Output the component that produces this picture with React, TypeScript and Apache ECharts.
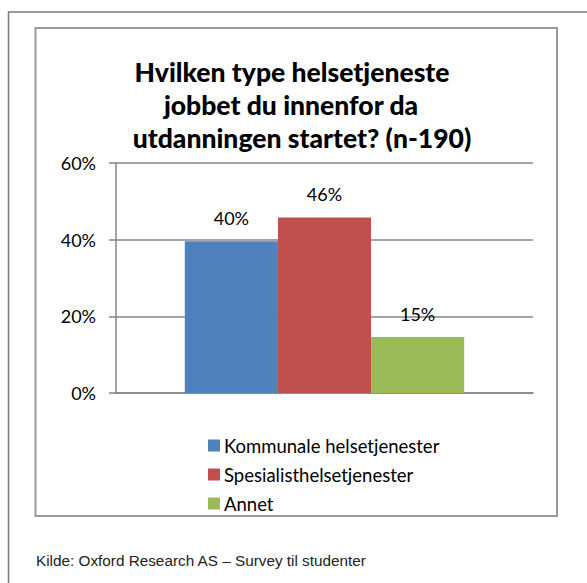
import React, { useEffect, useRef } from "react";
import * as echarts from "echarts";

const categories = [""];
const seriesNames = ["Kommunale helsetjenester", "Spesialisthelsetjenester", "Annet"];
const seriesValues = [39.6, 45.8, 14.6];
const seriesColors = ["#4F81BD", "#C0504D", "#9BBB59"];
const titleLines = ["Hvilken type helsetjeneste", "jobbet du innenfor da", "utdanningen startet? (n-190)"];
const sourceText = "Kilde: Oxford Research AS \u2013 Survey til studenter";

export default function App() {
  const ref = useRef<HTMLDivElement>(null);
  useEffect(() => {
    const chart = echarts.init(ref.current!, null, { renderer: "svg" });
    const font = "Lato, 'Open Sans', sans-serif";
    const titleCenters = [287, 286, 297];
    chart.setOption({
      animation: false,
      backgroundColor: "#fff",
      title: titleLines.map((t, i) => ({
        text: t,
        left: titleCenters[i],
        textAlign: "center",
        top: 50 + i * 33,
        textStyle: { fontFamily: font, fontWeight: 900, fontSize: 26.5, lineHeight: 33, color: "#000" },
      })),
      graphic: [
        { type: "rect", shape: { x: 8.5, y: 12, width: 640, height: 640 }, style: { fill: "none", stroke: "#7a7a7a", lineWidth: 1.5 }, z: 0 },
        { type: "rect", shape: { x: 35.5, y: 28, width: 521.5, height: 488 }, style: { fill: "none", stroke: "#999", lineWidth: 2 }, z: 0 },
        { type: "text", x: 36, y: 560, style: { text: sourceText, fontFamily: "'Liberation Sans', Arial, sans-serif", fontSize: 15.3, fill: "#222", verticalAlign: "middle" } },
      ],
      legend: {
        orient: "vertical",
        left: 203,
        top: 431,
        itemWidth: 12,
        itemHeight: 12,
        itemGap: 10,
        icon: "rect",
        textStyle: { fontFamily: font, fontSize: 18.5, color: "#000", padding: [0, 0, 0, -1] },
        data: seriesNames,
      },
      grid: { left: 116, right: 54, top: 163, bottom: 190 },
      xAxis: {
        type: "category",
        data: categories,
        axisLine: { show: true, lineStyle: { color: "#868686", width: 1.5 } },
        axisTick: { show: false },
        axisLabel: { show: false },
      },
      yAxis: {
        type: "value",
        min: 0,
        max: 60,
        interval: 20,
        axisLine: { show: true, lineStyle: { color: "#868686", width: 1.5 } },
        axisTick: { show: true, length: 7, lineStyle: { color: "#868686", width: 1.5 } },
        splitLine: { lineStyle: { color: "#868686", width: 1.5 } },
        axisLabel: { formatter: "{value}%", fontFamily: font, fontSize: 18, color: "#000", margin: 20 },
      },
      series: seriesNames.map((name, i) => ({
        name,
        type: "bar",
        data: [seriesValues[i]],
        barGap: "0%",
        barCategoryGap: "33%",
        itemStyle: { color: seriesColors[i] },
        label: {
          show: true,
          position: "top",
          distance: 14,
          formatter: (p: any) => Math.round(p.value) + "%",
          fontFamily: font,
          fontSize: 18,
          color: "#000",
        },
      })),
    });
    return () => chart.dispose();
  }, []);
  return <div ref={ref} style={{ position: "fixed", left: 0, top: 0, width: 587, height: 583 }} />;
}
